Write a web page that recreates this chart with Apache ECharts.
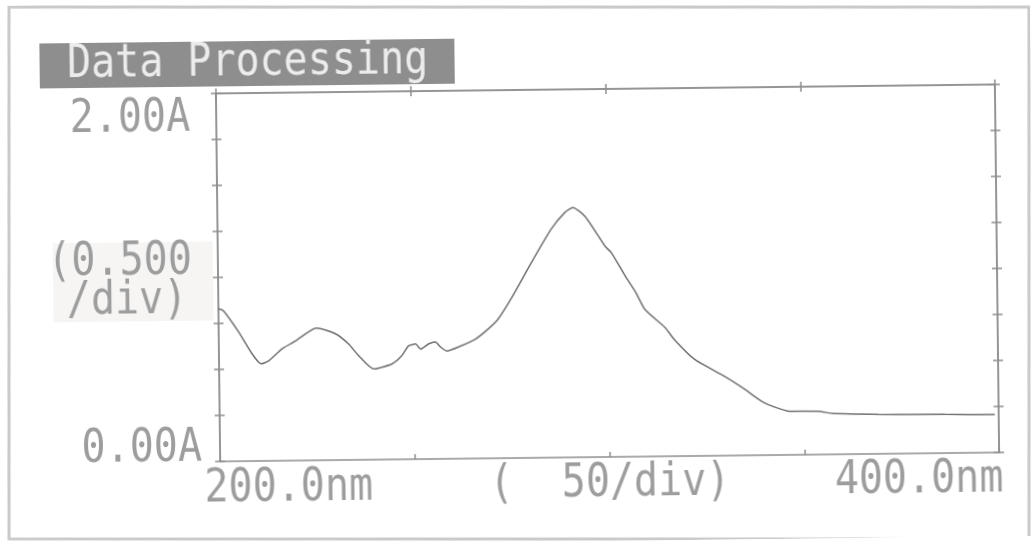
<!DOCTYPE html>
<html>
<head>
<meta charset="utf-8">
<script src="https://cdn.jsdelivr.net/npm/echarts@6/dist/echarts.min.js"></script>
<style>
  html, body { margin: 0; padding: 0; background: #fff; overflow: hidden; }
  /* the printout was scanned slightly askew */
  #main { width: 1033px; height: 542px; transform: rotate(-0.66deg); }
</style>
</head>
<body>
<div id="main"></div>
<script>
// wavelength (nm) and absorbance (A)
var wavelengths = [200, 201.3, 205.1, 208.5, 210.8, 212.8, 216.2, 219.7, 225.1, 230, 233.3, 235.9, 239.7,
    244.4, 246.9, 248.7, 250.5, 251.8, 253.8, 255.6, 256.9, 258.5, 261.5, 265.9, 269.2, 271.8,
    275.4, 280.5, 285.6, 289.2, 291.3, 294.4, 299.5, 301, 304.6, 307.2, 309.5, 314.6,
    316.9, 322.1, 329.7, 334.9, 339.2, 342.6, 346.2, 353.8, 357.2, 369.2, 386.2, 399];
var absorbance = [0.83, 0.818, 0.703, 0.583, 0.528, 0.544, 0.608, 0.65, 0.719, 0.686, 0.63, 0.565, 0.493,
    0.519, 0.562, 0.616, 0.626, 0.598, 0.625, 0.636, 0.608, 0.586, 0.607, 0.649, 0.703, 0.757,
    0.874, 1.062, 1.24, 1.331, 1.357, 1.308, 1.144, 1.111, 0.98, 0.892, 0.799, 0.7,
    0.635, 0.525, 0.431, 0.359, 0.293, 0.26, 0.237, 0.235, 0.223, 0.215, 0.21, 0.207];

var xLabels = ['200.0nm', '(  50/div)', '400.0nm'];
var yLabels = ['0.00A', '(0.500', '/div)', '2.00A'];
var title = 'Data Processing';

var ink = '#8e8e8e';
var textInk = '#9d9d9d';
var font = '40px "DejaVu Sans Mono", "Liberation Mono", monospace';

var myChart = echarts.init(document.getElementById('main'));

function xAx(pos, inside, len) {
    return {
        type: 'value', min: 200, max: 400, interval: 50, position: pos,
        axisLine: { show: true, onZero: false, lineStyle: { color: ink, width: 1.5 } },
        axisTick: { show: true, inside: inside, length: len, lineStyle: { color: ink, width: 1.5 } },
        axisLabel: { show: false },
        splitLine: { show: false }
    };
}
function yAx(pos, inside) {
    return {
        type: 'value', min: 0, max: 2, interval: 0.25, position: pos,
        axisLine: { show: true, onZero: false, lineStyle: { color: ink, width: 1.5 } },
        axisTick: { show: true, inside: inside, length: 5, lineStyle: { color: ink, width: 1.5 } },
        axisLabel: { show: false },
        splitLine: { show: false }
    };
}

var points = wavelengths.map(function (w, i) { return [w, absorbance[i]]; });

option = {
    backgroundColor: '#fff',
    animation: false,
    grid: { left: 218, right: 36, top: 90, bottom: 84, containLabel: false },
    xAxis: [xAx('bottom', true, 5), xAx('top', false, 5), xAx('top', true, 5)],
    yAxis: [yAx('left', false), yAx('left', true), yAx('right', false), yAx('right', true)],
    series: [{
        type: 'line',
        xAxisIndex: 0,
        yAxisIndex: 0,
        smooth: 0.2,
        showSymbol: false,
        lineStyle: { color: '#707070', width: 1.5 },
        data: points
    }]
};
myChart.setOption(option);

// text placed from the axis scales
var p0 = myChart.convertToPixel({ gridIndex: 0 }, [200, 0]);
var p1 = myChart.convertToPixel({ gridIndex: 0 }, [400, 2]);
var pm = myChart.convertToPixel({ gridIndex: 0 }, [300, 1]);

function txt(s, x, y, align, fill) {
    return {
        type: 'text', x: x, y: y, scaleY: 1.15, z: 10,
        style: { text: s, font: font, fill: fill || textInk, align: align, verticalAlign: 'middle' }
    };
}

myChart.setOption({
    graphic: [
        // photo frame stays square to the page
        { type: 'rect', shape: { x: 9, y: 7, width: 1020, height: 532 },
          originX: 516.5, originY: 271, rotation: -0.66 * Math.PI / 180,
          style: { fill: 'none', stroke: '#c9c9c9', lineWidth: 3 } },
        { type: 'rect', shape: { x: 42, y: 38, width: 415, height: 45 },
          style: { fill: '#8e8e8e' } },
        txt(title, 250, 60, 'center', '#ececec'),
        { type: 'rect', shape: { x: 53, y: pm[1] - 36, width: 160, height: 79 },
          style: { fill: '#f6f5f4' } },
        txt(yLabels[3], p0[0] - 26, p1[1] + 25, 'right'),
        txt(yLabels[1], p0[0] - 26, pm[1] - 16, 'right'),
        txt(yLabels[2], p0[0] - 31, pm[1] + 23, 'right'),
        txt(yLabels[0], p0[0] - 18, p0[1] - 13, 'right'),
        txt(xLabels[0], p0[0] - 16, p0[1] + 28, 'left'),
        txt(xLabels[1], pm[0], p0[1] + 27, 'center'),
        txt(xLabels[2], p1[0] + 4, p0[1] + 27, 'right')
    ]
});
</script>
</body>
</html>
